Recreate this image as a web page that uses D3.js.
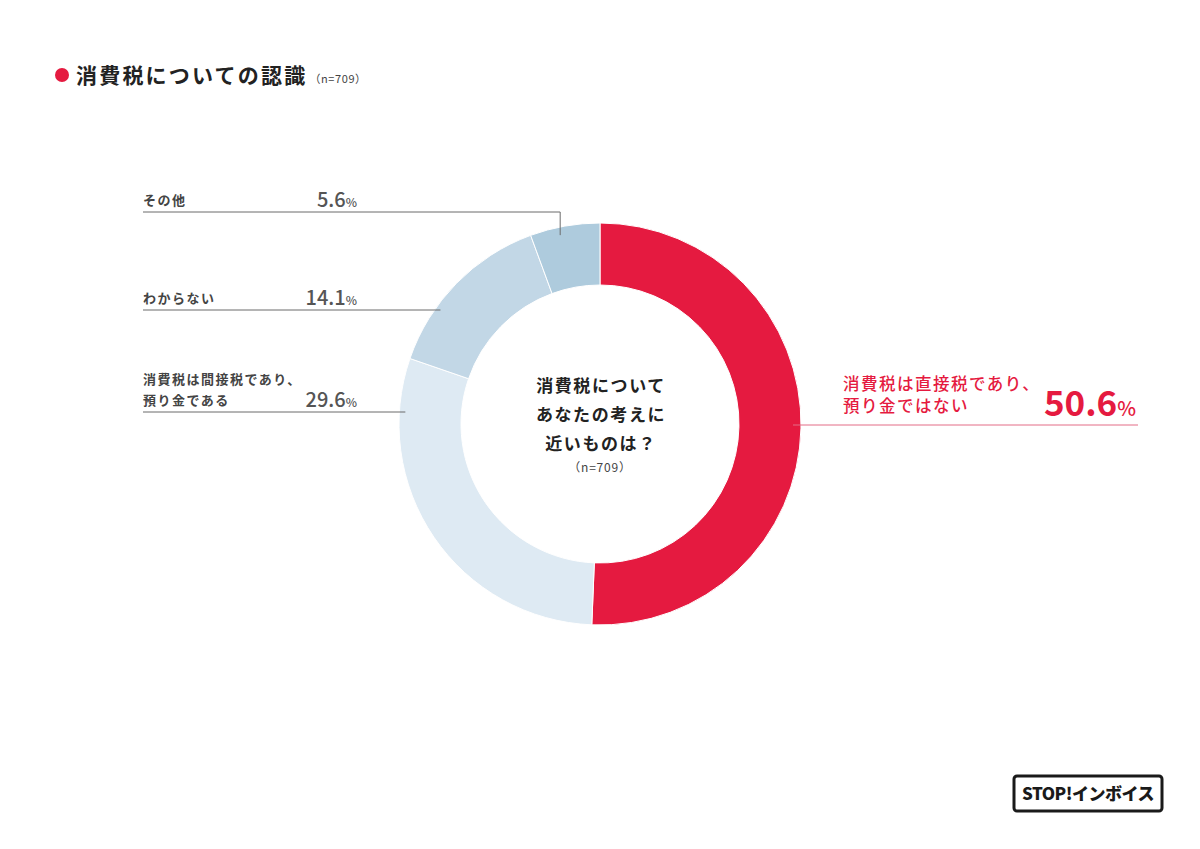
<!DOCTYPE html>
<html>
<head>
<meta charset="utf-8">
<script src="https://cdn.jsdelivr.net/npm/d3@7"></script>
<style>
  body { margin: 0; background: #fff; }
  text { font-family: "Noto Sans CJK JP", "Noto Sans", sans-serif; }
</style>
</head>
<body>
<svg id="chart" width="1200" height="849"></svg>
<script>
// data
var categories = ["消費税は直接税であり、預り金ではない", "消費税は間接税であり、預り金である", "わからない", "その他"];
var values = [50.6, 29.6, 14.1, 5.6];
var colors = ["#e51a40", "#deeaf3", "#c2d7e6", "#aecbdd"];
var sampleSize = 709;

var svg = d3.select("#chart");
svg.append("rect").attr("width", 1200).attr("height", 849).attr("fill", "#fff");

// title
svg.append("circle").attr("cx", 62).attr("cy", 75).attr("r", 7).attr("fill", "#e51a40");
var title = svg.append("text").attr("x", 76).attr("y", 83)
  .attr("font-size", 21).attr("font-weight", 700).attr("fill", "#222");
title.append("tspan").attr("letter-spacing", 2.2).text("消費税についての認識");
title.append("tspan").attr("dx", 2).attr("font-size", 11).attr("font-weight", 400).attr("fill", "#444")
  .attr("letter-spacing", 0.6).text("（n=" + sampleSize + "）");

// donut
var cx = 600, cy = 424, outerR = 201, innerR = 139;
var pie = d3.pie().sort(null).value(function(d) { return d; });
var arc = d3.arc().innerRadius(innerR).outerRadius(outerR);
var g = svg.append("g").attr("transform", "translate(" + cx + "," + cy + ")");
var arcs = pie(values);
g.selectAll("path").data(arcs).enter().append("path")
  .attr("d", arc)
  .attr("fill", function(d, i) { return colors[i]; })
  .attr("stroke", "#fff").attr("stroke-width", 1);

// center text
var center = ["消費税について", "あなたの考えに", "近いものは？"];
svg.append("g").selectAll("text").data(center).enter().append("text")
  .attr("x", cx + 1).attr("y", function(d, i) { return 392 + i * 29; })
  .attr("text-anchor", "middle").attr("font-size", 17).attr("font-weight", 700).attr("fill", "#222")
  .attr("letter-spacing", 1.6)
  .text(function(d) { return d; });
svg.append("text").attr("x", cx).attr("y", 472).attr("text-anchor", "middle")
  .attr("font-size", 12).attr("fill", "#444").attr("letter-spacing", 0.8)
  .text("（n=" + sampleSize + "）");

// left labels
var leftLabels = [
  { i: 3, lines: ["その他"], y: 212 },
  { i: 2, lines: ["わからない"], y: 310 },
  { i: 1, lines: ["消費税は間接税であり、", "預り金である"], y: 412 }
];
var lineColor = "#6b6b6b";
leftLabels.forEach(function(L) {
  var d = arcs[L.i];
  var path = d3.path();
  path.moveTo(143, L.y);
  if (L.i === 3) {
    // elbow down into the small slice
    var a = d.startAngle + (d.endAngle - d.startAngle) * 0.41;
    var r = outerR - 8;
    var px = cx + Math.sin(a) * r;
    path.lineTo(px, L.y);
    path.lineTo(px, cy - Math.sqrt(r * r - (px - cx) * (px - cx)));
  } else {
    var xEnd = cx - Math.sqrt(Math.max(0, outerR * outerR - (L.y - cy) * (L.y - cy))) + 6;
    path.lineTo(xEnd, L.y);
  }
  svg.append("path").attr("d", path.toString()).attr("fill", "none")
    .attr("stroke", lineColor).attr("stroke-width", 1);

  L.lines.forEach(function(t, k) {
    svg.append("text").attr("x", 143).attr("y", L.y - 7 - (L.lines.length - 1 - k) * 21)
      .attr("font-size", 13).attr("font-weight", 700).attr("fill", "#444")
      .attr("letter-spacing", 1.5).text(t);
  });
  var v = svg.append("text").attr("x", 357).attr("y", L.y - 5).attr("text-anchor", "end")
    .attr("fill", "#555").attr("font-weight", 500);
  v.append("tspan").attr("font-size", 20).text(values[L.i].toFixed(1));
  v.append("tspan").attr("font-size", 12).text("%");
});

// right label
var red = "#e51a40";
svg.append("line").attr("x1", 793).attr("x2", 1138).attr("y1", 425).attr("y2", 425)
  .attr("stroke", "#e36d86").attr("stroke-width", 1);
["消費税は直接税であり、", "預り金ではない"].forEach(function(t, k) {
  svg.append("text").attr("x", 843).attr("y", 390 + k * 22)
    .attr("font-size", 16.5).attr("font-weight", 500).attr("fill", red)
    .attr("letter-spacing", 1.5).text(t);
});
var rv = svg.append("text").attr("x", 1136).attr("y", 416).attr("text-anchor", "end")
  .attr("fill", red).attr("font-weight", 700);
rv.append("tspan").attr("font-size", 35).text(values[0].toFixed(1));
rv.append("tspan").attr("font-size", 20).attr("font-weight", 500).text("%");

// logo
svg.append("rect").attr("x", 1014).attr("y", 776).attr("width", 148).attr("height", 35)
  .attr("rx", 3).attr("fill", "#fff").attr("stroke", "#1a1a1a").attr("stroke-width", 3);
svg.append("text").attr("x", 1088).attr("y", 800).attr("text-anchor", "middle")
  .attr("font-size", 17).attr("font-weight", 900).attr("fill", "#1a1a1a")
  .attr("letter-spacing", -0.5).text("STOP!インボイス");
</script>
</body>
</html>
